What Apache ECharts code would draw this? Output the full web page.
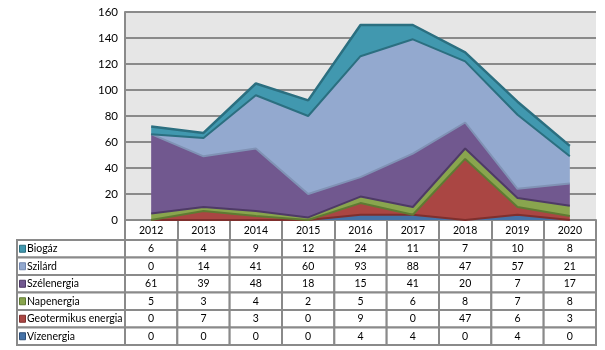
<!DOCTYPE html>
<html>
<head>
    <meta charset='utf-8'>
    <script src='https://cdn.jsdelivr.net/npm/echarts@6/dist/echarts.min.js'></script>
    <style>
        html, body, #main {
            width: 100%;
            height: 100%;
            margin: 0;
            background: #fff;
        }
    </style>
</head>
<body>
<div id='main'></div>
<script>
    var years = ['2012', '2013', '2014', '2015', '2016', '2017', '2018', '2019', '2020'];
    // listed top to bottom as in the table
    var names = ['Biogáz', 'Szilárd', 'Szélenergia', 'Napenergia', 'Geotermikus energia', 'Vízenergia'];
    var biogaz = [6, 4, 9, 12, 24, 11, 7, 10, 8];
    var szilard = [0, 14, 41, 60, 93, 88, 47, 57, 21];
    var szel = [61, 39, 48, 18, 15, 41, 20, 7, 17];
    var nap = [5, 3, 4, 2, 5, 6, 8, 7, 8];
    var geo = [0, 7, 3, 0, 9, 0, 47, 6, 3];
    var viz = [0, 0, 0, 0, 4, 4, 0, 4, 0];
    var yTicks = [0, 20, 40, 60, 80, 100, 120, 140, 160];

    var values = [biogaz, szilard, szel, nap, geo, viz];
    var fills = ['#4198AF', '#93A9CF', '#71588F', '#89A54E', '#AA4643', '#4572A7'];
    var edges = ['#2B6F80', '#2B6F80', '#8092B5', '#4E3A66', '#5F7A33', '#7F2F2D'];
    var keyEdges = ['#2B6F80', '#7388B0', '#4E3A66', '#5F7A33', '#7F2F2D', '#2E4F78'];
    var font = 'Lato';
    var cellFont = '10.5px "' + font + '"';

    var myChart = echarts.init(document.getElementById('main'));

    // stacked areas, bottom series first
    var series = [];
    for (var i = names.length - 1; i >= 0; i--) {
        series.push({
            name: names[i],
            type: 'line',
            stack: 'total',
            data: values[i],
            symbol: 'none',
            silent: true,
            lineStyle: { color: edges[i], width: i === 0 ? 2.5 : 2 },
            areaStyle: { color: fills[i], opacity: 1 },
            itemStyle: { color: fills[i] },
            z: 2
        });
    }

    // table cells
    var cells = [];
    var nameCells = [];
    for (var r = 0; r < names.length; r++) {
        nameCells.push([0, r]);
        for (var c = 0; c < years.length; c++) {
            cells.push([c, r, values[r][c]]);
        }
    }

    series.push({
        type: 'custom',
        xAxisIndex: 1,
        yAxisIndex: 1,
        silent: true,
        data: cells,
        renderItem: function (params, api) {
            var p = api.coord([api.value(0), api.value(1)]);
            var s = api.size([1, 1]);
            return {
                type: 'group',
                children: [{
                    type: 'rect',
                    shape: { x: p[0] - s[0] / 2, y: p[1] - s[1] / 2, width: s[0], height: s[1] },
                    style: { fill: '#fff', stroke: '#8a8a8a', lineWidth: 2 }
                }, {
                    type: 'text',
                    x: p[0], y: p[1],
                    style: {
                        text: String(api.value(2)), align: 'center', verticalAlign: 'middle',
                        fill: '#000', font: cellFont
                    }
                }]
            };
        }
    });

    series.push({
        type: 'custom',
        xAxisIndex: 2,
        yAxisIndex: 2,
        silent: true,
        data: nameCells,
        renderItem: function (params, api) {
            var r = api.value(1);
            var p = api.coord([api.value(0), r]);
            var s = api.size([1, 1]);
            var left = p[0] - s[0] / 2;
            return {
                type: 'group',
                children: [{
                    type: 'rect',
                    shape: { x: left, y: p[1] - s[1] / 2, width: s[0], height: s[1] },
                    style: { fill: '#fff', stroke: '#8a8a8a', lineWidth: 2 }
                }, {
                    type: 'rect',
                    shape: { x: left + 2.5, y: p[1] - 3.5, width: 6, height: 7 },
                    style: { fill: fills[r], stroke: keyEdges[r], lineWidth: 1 }
                }, {
                    type: 'text',
                    x: left + 10, y: p[1],
                    style: {
                        text: names[r], align: 'left', verticalAlign: 'middle',
                        fill: '#000', font: cellFont
                    }
                }]
            };
        }
    });

    myChart.setOption({
        animation: false,
        backgroundColor: '#fff',
        textStyle: { fontFamily: font },
        grid: [
            { left: 125, right: 9, top: 12, height: 208, backgroundColor: '#e6e6e6', show: true, borderWidth: 0 },
            { left: 125, right: 9, top: 240, height: 105 },
            { left: 17, width: 108, top: 240, height: 105 }
        ],
        xAxis: [{
            type: 'category',
            gridIndex: 0,
            data: years,
            boundaryGap: true,
            axisLine: { lineStyle: { color: '#8a8a8a', width: 2 } },
            axisTick: { show: true, inside: false, length: 20, lineStyle: { color: '#8a8a8a', width: 2 } },
            axisLabel: { color: '#000', fontSize: 10.5, margin: 5, fontFamily: font }
        }, {
            type: 'category',
            gridIndex: 1,
            data: years,
            show: false
        }, {
            type: 'category',
            gridIndex: 2,
            data: [''],
            show: false
        }],
        yAxis: [{
            type: 'value',
            gridIndex: 0,
            min: yTicks[0],
            max: yTicks[yTicks.length - 1],
            interval: yTicks[1] - yTicks[0],
            axisLine: { show: true, lineStyle: { color: '#8a8a8a', width: 2 } },
            axisTick: { show: false },
            splitLine: { lineStyle: { color: '#8a8a8a', width: 2 } },
            axisLabel: { color: '#000', fontSize: 11.5, margin: 7, fontFamily: font }
        }, {
            type: 'category',
            gridIndex: 1,
            data: names,
            inverse: true,
            show: false
        }, {
            type: 'category',
            gridIndex: 2,
            data: names,
            inverse: true,
            show: false
        }],
        series: series
    });
</script>
</body>
</html>
